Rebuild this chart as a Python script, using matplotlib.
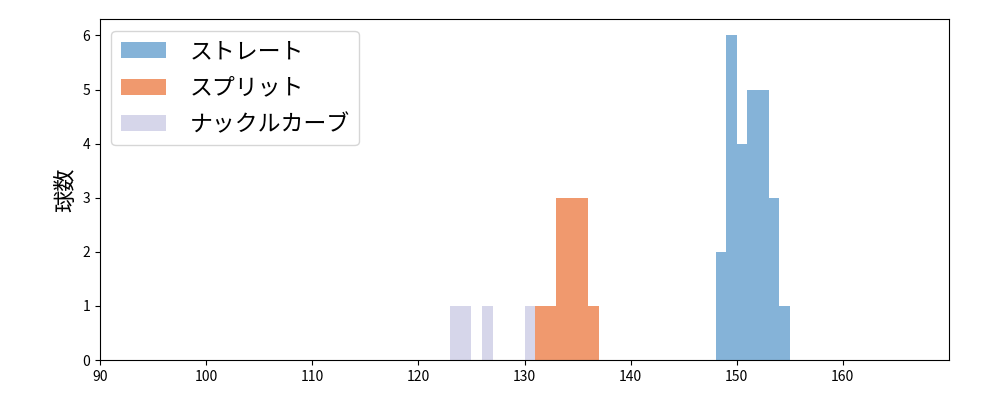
import matplotlib
matplotlib.use("Agg")
import matplotlib.pyplot as plt

plt.rcParams['font.family'] = ['Noto Sans CJK JP', 'DejaVu Sans']

# 球速 (km/h) と球数
straight_speed = [148, 149, 150, 151, 152, 153, 154]
straight_count = [2, 6, 4, 5, 5, 3, 1]

split_speed = [131, 132, 133, 134, 135, 136]
split_count = [1, 1, 3, 3, 3, 1]

knuckle_speed = [123, 124, 126, 130]
knuckle_count = [1, 1, 1, 1]

fig, ax = plt.subplots(figsize=(10, 4), dpi=100)
fig.subplots_adjust(left=0.1, right=0.949, top=0.952, bottom=0.1)

ax.bar(straight_speed, straight_count, width=1, align="edge", color="#85b3d8", label="ストレート")
ax.bar(split_speed, split_count, width=1, align="edge", color="#f0996e", label="スプリット")
ax.bar(knuckle_speed, knuckle_count, width=1, align="edge", color="#d6d6ea", label="ナックルカーブ")

ax.set_xlim(90, 170)
ax.set_ylim(0, 6.3)
ax.set_xticks(range(90, 170, 10))
ax.set_yticks(range(0, 7))
ax.set_ylabel("球数", fontsize=16)
ax.legend(loc="upper left", fontsize=16.5, labelspacing=0.6, handletextpad=1.0)

fig.savefig("out.png")
